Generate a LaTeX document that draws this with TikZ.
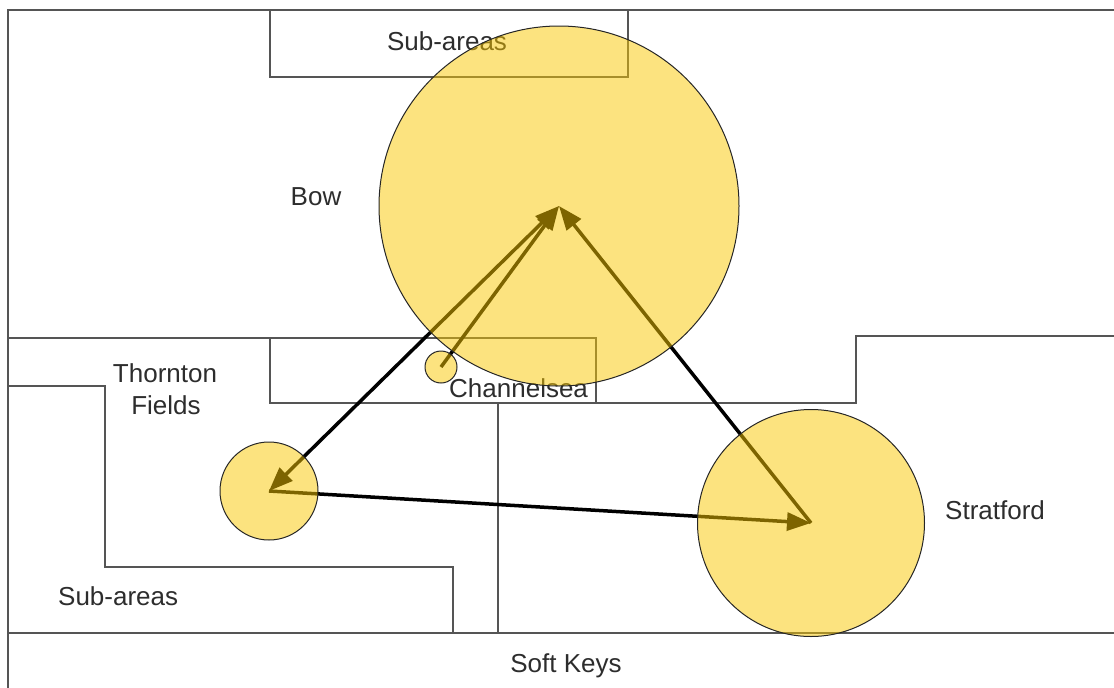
\documentclass[tikz,border=0pt]{standalone}
\usepackage{fontspec}
\setmainfont{Liberation Sans}
\usetikzlibrary{arrows.meta}
\definecolor{circfill}{RGB}{250,200,0}
\definecolor{linegray}{RGB}{85,85,85}
\definecolor{txt}{RGB}{45,45,45}
\begin{document}
\begin{tikzpicture}[x=1pt,y=-1pt,
  area/.style={draw=linegray, line width=1.6pt},
  lbl/.style={text=txt, font=\fontsize{26}{31}\selectfont, anchor=base, inner sep=0pt},
  link/.style={line width=3.5pt, -{Triangle[length=24pt,width=18pt]}},
  twolink/.style={line width=3.5pt, {Triangle[length=24pt,width=18pt]}-{Triangle[length=24pt,width=18pt]}},
  zone/.style={circle, draw=black!85, line width=1pt, fill=circfill, fill opacity=0.5, inner sep=0pt, minimum size=#1}]
\useasboundingbox (0,0) rectangle (1114,688);
\clip (0,0) rectangle (1114,688);
\fill[white] (0,0) rectangle (1114,688);
% region outlines
\draw[area] (8,10) rectangle (1130,700);
\draw[area] (270,10) rectangle (628,77);
\draw[area] (8,338) -- (596,338) -- (596,403) -- (856,403) -- (856,336) -- (1130,336);
\draw[area] (270,338) -- (270,403) -- (596,403);
\draw[area] (8,386) -- (105,386) -- (105,567) -- (453,567) -- (453,633);
\draw[area] (498,403) -- (498,633);
\draw[area] (8,633) -- (1130,633);
% labels
\node[lbl] (topsub) at (447,50) {Sub-areas};
\node[lbl] (bowlbl) at (316,205) {Bow};
\node[lbl] (thlbl) at (165,382) {Thornton};
\node[lbl] (fdlbl) at (166,414) {Fields};
\node[lbl, anchor=base west] (chlbl) at (449,397) {Channelsea};
\node[lbl, anchor=base west] (stlbl) at (945,519) {Stratford};
\node[lbl, anchor=base west] (botsub) at (58,605) {Sub-areas};
\node[lbl] (soft) at (566,672) {Soft Keys};
% centres
\coordinate (bowc) at (559,206);
\coordinate (chc) at (441,367);
\coordinate (thc) at (269,491);
\coordinate (stc) at (811,523);
% connectors
\draw[link] (thc) -- (stc);
\draw[link] (stc) -- (bowc);
\draw[twolink] (thc) -- (bowc);
\draw[link] (chc) -- (bowc);
% circles (translucent, on top)
\node[zone=360pt] (bow) at (bowc) {};
\node[zone=32pt] (chan) at (chc) {};
\node[zone=98pt] (thorn) at (thc) {};
\node[zone=227pt] (strat) at (stc) {};
\end{tikzpicture}
\end{document}
